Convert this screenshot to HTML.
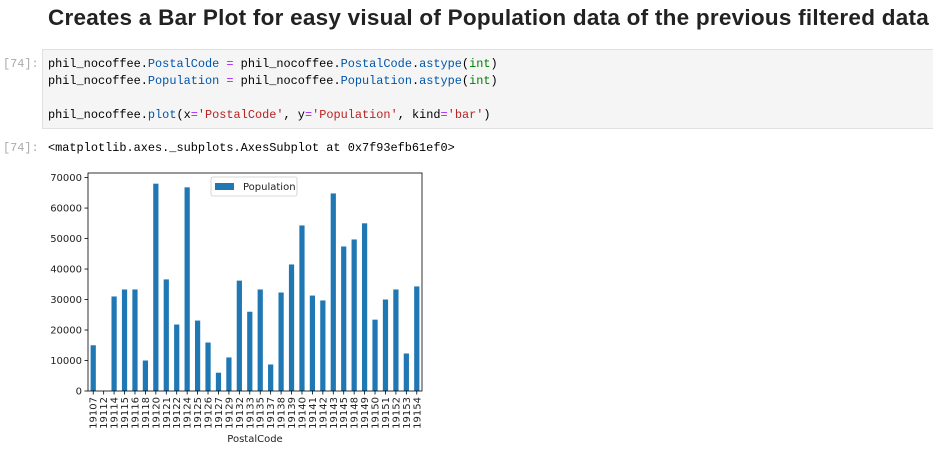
<!DOCTYPE html>
<html><head><meta charset="utf-8"><style>
body{margin:0;width:933px;height:457px;background:#fff;overflow:hidden;position:relative;font-family:"Liberation Sans",sans-serif}
.title{position:absolute;left:48px;top:5px;font-size:22.5px;font-weight:bold;color:#222;white-space:nowrap;letter-spacing:0.25px}
.prompt{position:absolute;left:3px;font:11.9px "Liberation Mono",monospace;color:#aaa}
.cell{position:absolute;left:42px;top:49px;width:895px;height:78px;background:#f5f5f5;border:1px solid #e0e0e0}
.code{position:absolute;left:48px;font:11.9px "Liberation Mono",monospace;color:#000;white-space:pre}
.a{color:#0055aa}.g{color:#008000}.s{color:#ba2121}.o{color:#aa22ff}
</style></head><body>
<div class="title">Creates a Bar Plot for easy visual of Population data of the previous filtered data</div>
<div class="cell"></div>
<div class="prompt" style="top:57px">[74]:</div>
<div class="code" style="top:57px">phil_nocoffee.<span class="a">PostalCode</span> <span class="o">=</span> phil_nocoffee.<span class="a">PostalCode</span>.<span class="a">astype</span>(<span class="g">int</span>)</div>
<div class="code" style="top:74px">phil_nocoffee.<span class="a">Population</span> <span class="o">=</span> phil_nocoffee.<span class="a">Population</span>.<span class="a">astype</span>(<span class="g">int</span>)</div>
<div class="code" style="top:108px">phil_nocoffee.<span class="a">plot</span>(x<span class="o">=</span><span class="s">'PostalCode'</span>, y<span class="o">=</span><span class="s">'Population'</span>, kind<span class="o">=</span><span class="s">'bar'</span>)</div>
<div class="prompt" style="top:141px">[74]:</div>
<div class="code" style="top:141px">&lt;matplotlib.axes._subplots.AxesSubplot at 0x7f93efb61ef0&gt;</div>
<svg id="chart" width="933" height="457" style="position:absolute;left:0;top:0"></svg>
<script>
const categories=["19107","19112","19114","19115","19116","19118","19120","19121","19122","19124","19125","19126","19127","19129","19132","19133","19135","19137","19138","19139","19140","19141","19142","19143","19145","19148","19149","19150","19151","19152","19153","19154"];
const population=[15000,0,31000,33300,33300,10000,68000,36600,21800,66800,23100,15900,6000,11000,36200,26000,33300,8700,32300,41500,54300,31300,29700,64800,47400,49700,55000,23400,30000,33300,12300,34300];
const yTicks=[0,10000,20000,30000,40000,50000,60000,70000];
const NS="http://www.w3.org/2000/svg",svg=document.getElementById('chart');
const L=88,R=422,T=173,B=391,yMax=71500;
const y=v=>B-(v/yMax)*(B-T);
const slot=(R-L)/categories.length;
const x=i=>L+slot*(i+0.5);
function mk(t,a,p){const e=document.createElementNS(NS,t);for(const k in a)e.setAttribute(k,a[k]);(p||svg).appendChild(e);return e;}
population.forEach((v,i)=>{
 const r=mk('rect',{x:x(i)-slot*0.25,y:y(v),width:slot*0.5,height:B-y(v),fill:'#1f77b4'});
 
 
 const tk=mk('line',{x1:x(i),x2:x(i),y1:B,y2:B+3.5,stroke:'#000','stroke-width':0.8});
 
 
 const t=mk('text',{x:0,y:0,transform:`translate(${x(i)+3.5},${B+6}) rotate(-90)`,'text-anchor':'end','font-size':10,fill:'#222','font-family':'DejaVu Sans, sans-serif'});
 t.textContent=categories[i];
 
 
});
yTicks.forEach(v=>{
 const tk=mk('line',{x1:L-3.5,x2:L,y1:y(v),y2:y(v),stroke:'#000','stroke-width':0.8});
 
 
 const t=mk('text',{x:L-6,y:y(v)+3.5,'text-anchor':'end','font-size':10,fill:'#222','font-family':'DejaVu Sans, sans-serif'});
 t.textContent=v;
 
 
});
const frame=mk('rect',{x:L,y:T,width:R-L,height:B-T,fill:'none',stroke:'#000','stroke-width':0.8});


const xt=mk('text',{x:(L+R)/2,y:442,'text-anchor':'middle','font-size':10,fill:'#222','font-family':'DejaVu Sans, sans-serif'});
xt.textContent='PostalCode';


const lg=mk('g',{});


mk('rect',{x:211,y:177,width:86,height:19,fill:'#fff',stroke:'#ccc','stroke-width':0.8,rx:2},lg);
mk('rect',{x:215,y:183,width:19,height:7,fill:'#1f77b4'},lg);
const lt=mk('text',{x:243,y:190,'font-size':10,fill:'#222','font-family':'DejaVu Sans, sans-serif'},lg);
lt.textContent='Population';


</script>
</body></html>
